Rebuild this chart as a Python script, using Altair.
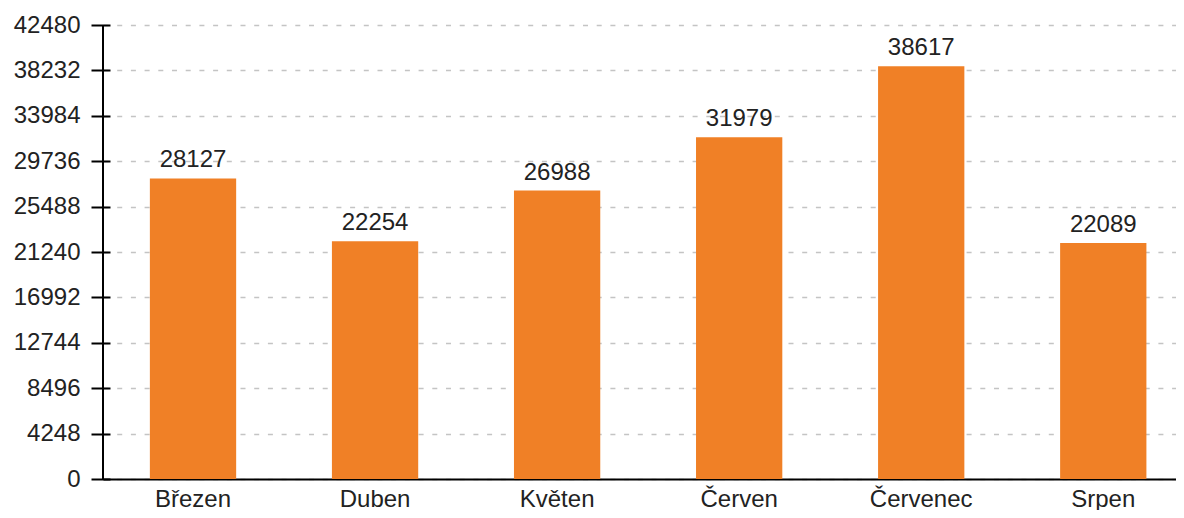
import altair as alt
import pandas as pd

months = ["Březen", "Duben", "Květen", "Červen", "Červenec", "Srpen"]
values = [28127, 22254, 26988, 31979, 38617, 22089]
y_ticks = [0, 4248, 8496, 12744, 16992, 21240, 25488, 29736, 33984, 38232, 42480]

df = pd.DataFrame({"month": months, "value": values})

FONT = "Liberation Sans"
ORANGE = "#f08026"

x_enc = alt.X(
    "month:N",
    sort=months,
    title=None,
    scale=alt.Scale(paddingInner=0.526, paddingOuter=0.21, align=0.613),
    axis=alt.Axis(
        labelAngle=0,
        labelFont=FONT,
        labelFontSize=24,
        labelColor="#222222",
        labelPadding=8,
        ticks=False,
        domainColor="#000000",
        domainWidth=2,
        grid=False,
    ),
)
y_scale = alt.Scale(domain=[0, 42480], nice=False, zero=True)
y_enc = alt.Y(
    "value:Q",
    title=None,
    scale=y_scale,
    axis=alt.Axis(
        values=y_ticks,
        format="d",
        labelFont=FONT,
        labelFontSize=24,
        labelColor="#222222",
        labelPadding=11,
        offset=-7,
        tickSize=19,
        tickWidth=2,
        tickColor="#000000",
        domain=False,
        grid=True,
        gridColor="#c4c4c4",
        gridWidth=1.5,
        gridDash=[5, 8.7],
    ),
)

base = alt.Chart(df)
bars = base.mark_bar(color=ORANGE).encode(x=x_enc, y=y_enc)
labels = base.mark_text(
    font=FONT, fontSize=24, color="#222222", baseline="alphabetic", dy=-11
).encode(x=alt.X("month:N", sort=months), y=alt.Y("value:Q"), text=alt.Text("value:Q", format="d"))
yline = alt.Chart(df).mark_rule(color="#000000", strokeWidth=2).encode(
    x=alt.value(0), y=alt.datum(0, scale=y_scale), y2=alt.datum(42480)
)

chart = (
    alt.layer(bars, labels, yline)
    .properties(
        width=1073,
        height=454,
        padding={"left": 95, "top": 17, "right": 0, "bottom": 31},
        autosize=alt.AutoSizeParams(type="none"),
    )
    .configure_view(stroke=None)
)

chart.save("out.html", embed_options={"renderer": "svg", "actions": False})
